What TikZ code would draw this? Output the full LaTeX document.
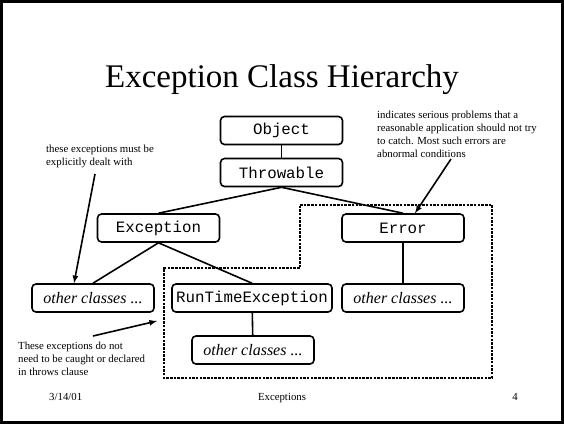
\documentclass[tikz,border=0pt]{standalone}
\usepackage{fontspec}
\setmainfont{Liberation Serif}
\setmonofont{Liberation Mono}
\usetikzlibrary{positioning}
\usetikzlibrary{arrows}

\tikzset{
  cls/.style={draw, rounded corners=4pt, line width=1.6pt, minimum width=122pt, minimum height=28pt, inner sep=0pt, font=\fontsize{15.8}{18}\selectfont\ttfamily},
  other/.style={cls, font=\fontsize{16}{18}\selectfont\itshape},
  note/.style={align=left, inner sep=0pt, font=\fontsize{10.8}{13}\selectfont},
  link/.style={line width=1.6pt},
  pointer/.style={->, line width=1.6pt}
}

\begin{document}
\begin{tikzpicture}[x=1pt, y=-1pt, >=latex]
    \useasboundingbox (0,0) rectangle (564,424);
    % draw slide frame and title
    \draw[line width=2.5pt] (1.5,1.5) rectangle (562.5,422.5);
    \node[anchor=base, font=\fontsize{33}{40}\selectfont] (title) at (282,87) {Exception Class Hierarchy};

    % draw class boxes
    \node[cls] (obj) at (281.5,130.5) {Object};
    \node[cls] (thr) at (281.5,172.5) {Throwable};
    \node[cls] (exc) at (158.5,228) {Exception};
    \node[cls] (err) at (403,228) {Error};
    \node[other] (exoth) at (93,298) {other classes ...};
    \node[cls, minimum width=160pt] (rte) at (252,298) {RunTimeException};
    \node[other] (erroth) at (403,298) {other classes ...};
    \node[other] (rteoth) at (253,350) {other classes ...};

    % draw hierarchy lines
    \draw[link] (obj) -- (thr);
    \draw[link] (thr.south) -- (exc.north);
    \draw[link] (thr.south) -- (err.north);
    \draw[link] (exc.south) -- (exoth.north);
    \draw[link] (exc.south) -- (rte.north);
    \draw[link] (rte) -- (rteoth);
    \draw[link] (err) -- (erroth);

    % draw unchecked region
    \draw[line width=1.4pt, dash pattern=on 2.5pt off 1.2pt] (300,205) -- (492,205) -- (492,378) -- (164,378) -- (164,268) -- (300,268) -- cycle;

    % draw notes
    \node[note, anchor=north west] (mustnote) at (46,145) {these exceptions must be\\explicitly dealt with};
    \node[note, anchor=north west] (errnote) at (377,111) {indicates serious problems that a\\reasonable application should not try\\to catch. Most such errors are\\abnormal conditions};
    \node[note, anchor=north west] (rtenote) at (18,342) {These exceptions do not\\need to be caught or declared\\in throws clause};
    \coordinate (mustfrom) at (95,174);
    \coordinate (errfrom) at (451,159);
    \coordinate (rtefrom) at (93,336);
    \coordinate (rtetip) at (157,321);
    \draw[pointer] (mustfrom) -- ([xshift=-19pt]exoth.north);
    \draw[pointer] (errfrom) -- ([xshift=12pt]err.north);
    \draw[pointer] (rtefrom) -- (rtetip);

    % draw footer
    \node[note, anchor=base west] (date) at (49,400.5) {3/14/01};
    \node[note, anchor=base] (topic) at (282,400.5) {Exceptions};
    \node[note, anchor=base] (page) at (515,400.5) {4};
\end{tikzpicture}
\end{document}
